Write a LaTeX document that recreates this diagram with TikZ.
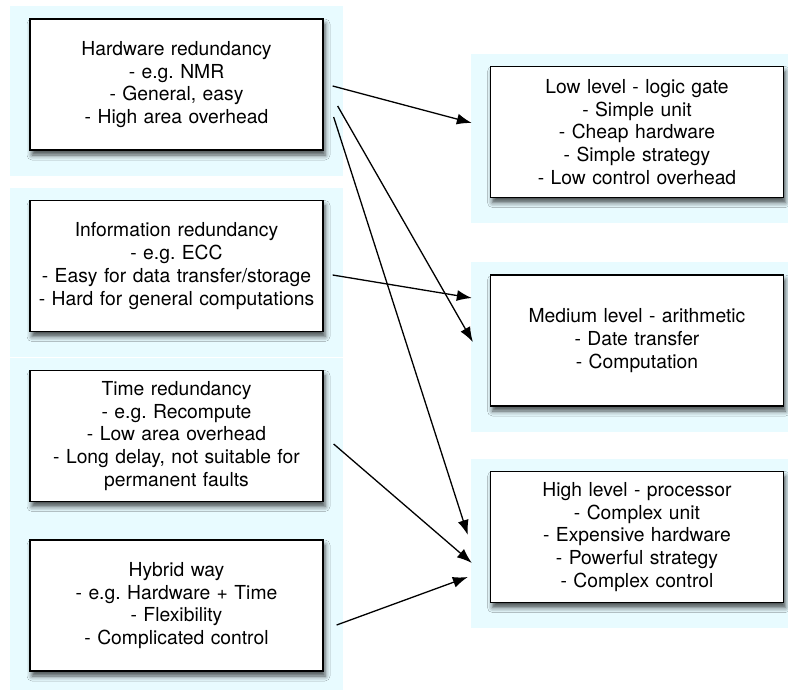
\documentclass[tikz,border=0pt]{standalone}
\usepackage{fontspec}
\setmainfont{TeX Gyre Heros}
\frenchspacing
\usepackage{tikz}
\usetikzlibrary{backgrounds, calc, arrows.meta, shadows.blur}
\definecolor{panelcol}{RGB}{232,251,255}
\tikzstyle{line} = [draw, line width=1.3pt, -{Latex[length=15pt, width=11pt]}]
\tikzstyle{box} = [rectangle, draw, line width=1.3pt, fill=white, minimum width=293pt, minimum height=131pt, text width=290pt, inner sep=0pt, align=center, font=\fontsize{19.3}{22.7}\selectfont, blur shadow={shadow xshift=2pt, shadow yshift=-5pt, shadow blur radius=5pt, shadow opacity=70}]
\tikzstyle{panel} = [fill=panelcol]

\begin{document}
\begin{tikzpicture}[x=1pt, y=-1pt]
	\useasboundingbox (0,0) rectangle (788,690);
	
	% methods
	\node [box] (hw) at (176.5,84.5) {Hardware redundancy\\- e.g. NMR\\- General, easy\\- High area overhead};
	\node [box, below of = hw, node distance = 181.5pt] (info) {Information redundancy\\- e.g. ECC\\- Easy for data transfer/storage\\- Hard for general computations};
	\node [box, below of = info, node distance = 170pt] (time) {Time redundancy\\- e.g. Recompute\\- Low area overhead\\- Long delay, not suitable for\\permanent faults};
	\node [box, below of = time, node distance = 169.5pt] (hyb) {Hybrid way\\- e.g. Hardware + Time\\- Flexibility\\- Complicated control};
	
	% levels
	\node [box] (low) at (637,132) {Low level - logic gate\\- Simple unit\\- Cheap hardware\\- Simple strategy\\- Low control overhead};
	\node [box, below of = low, node distance = 208.5pt] (med) {Medium level - arithmetic\\- Date transfer\\- Computation};
	\node [box, below of = med, node distance = 196.5pt] (high) {High level - processor\\- Complex unit\\- Expensive hardware\\- Powerful strategy\\- Complex control};
	
	\begin{scope}[on background layer]
		\foreach \n in {hw, info, time, hyb, low, med, high}
			\path [panel] ([xshift=-19pt, yshift=12pt]\n.north west) rectangle ([xshift=19pt, yshift=-25pt]\n.south east);
	\end{scope}
	
	\path [line] ($(hw.east)+(9,1.5)$) -- ($(low.west)+(-18,-9)$);
	\path [line] ($(hw.east)+(14,21.5)$) -- ($(med.west)+(-17,1.5)$);
	\path [line] ($(hw.east)+(10,32.5)$) -- ($(high.west)+(-22,-2)$);
	\path [line] ($(info.east)+(9,9)$) -- ($(med.west)+(-18,-42.5)$);
	\path [line] ($(time.east)+(10,8)$) -- ($(high.west)+(-18,26)$);
	\path [line] ($(hyb.east)+(13,19.5)$) -- ($(high.west)+(-22,40)$);
\end{tikzpicture}
\end{document}
